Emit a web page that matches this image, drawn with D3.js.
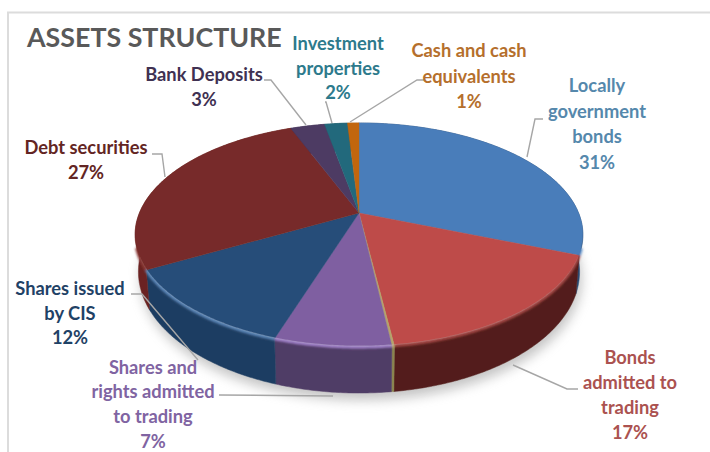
<!DOCTYPE html>
<html><head><meta charset="utf-8">
<script src="https://cdnjs.cloudflare.com/ajax/libs/d3/7.8.5/d3.min.js"></script>
<style>html,body{margin:0;padding:0;background:#fff;overflow:hidden}svg{display:block}</style>
</head><body><svg id="c" width="710" height="452"></svg>
<script>
// ---- data ----
const categories = ["Locally government bonds","Bonds admitted to trading","(unlabelled)","Shares and rights admitted to trading","Shares issued by CIS","Debt securities","Bank Deposits","Investment properties","Cash and cash equivalents"];
const values = [31,17,0.15,7,12,27,3,2,1];
const topColors  = ["#4a7dba","#be4c49","#b5a36a","#7f5fa1","#264d79","#772b29","#4d3a63","#23697b","#c2660f"];
const sideColors = ["#2a4a72","#531d1b","#8b8450","#503c66","#1f3e62","#6a2321","#3a2c4c","#1a505e","#8f4a0a"];
const rimColors  = ["#5f8fc8","#a84a47","#c9b87a","#a585cf","#5f8abc","#8c3a37","#5d4875","#2f7d90","#d57a20"];
const labelColors = ["#5588ac","#ab5250","#8064a2","#1f4266","#632523","#403152","#2d7a8c","#b56f2c"];
const labelLines = [
  ["Locally","government","bonds","31%"],
  ["Bonds","admitted to","trading","17%"],
  ["Shares and","rights admitted","to trading","7%"],
  ["Shares issued","by CIS","12%"],
  ["Debt securities","27%"],
  ["Bank Deposits","3%"],
  ["Investment","properties","2%"],
  ["Cash and cash","equivalents","1%"]
];
const title = "ASSETS STRUCTURE";
// ---- layout ----
const labelX = [597,630,153,70,86,204,338,469];
const labelY = [92,364,373.5,295,154,81,50,57];
const labelStep = [25.5,25,24.7,24.5,25,25,24.5,25.5];
const leaders = [
  [[543,119],[535,119],[527,157]],
  [[578,389],[567,389],[513,365]],
  [[219,395],[333,396]],
  [[131,294],[142,294],[198,360]],
  [[152,154],[162,154],[165,177]],
  [[264,80],[271,80],[306,125]],
  [[325,102],[326,102],[332,123]],
  [[424,80],[417,80],[350,122]]
];
const k = 0.196; // perspective of the pie plane
const sx = d3.scaleLinear().domain([-1,1]).range([359-219.6,359+219.6]);
const syTop = d3.scaleLinear().domain([1,-1]).range([213-107.7,213+107.7]);
const sxBot = d3.scaleLinear().domain([-1,1]).range([359-216.3,359+216.3]);
const syBot = d3.scaleLinear().domain([1,-1]).range([248-116.6,248+116.6]);
const proj = (t,fx,fy)=>{const X=Math.sin(t),Y=Math.cos(t),w=1+k*Y;return [fx(X/w),fy(Y/w)];};
const top_ = t=>proj(t,sx,syTop), bot = t=>proj(t,sxBot,syBot);
const samples=(a,b)=>{const n=Math.max(2,Math.ceil((b-a)/0.01));return d3.range(n+1).map(i=>a+(b-a)*i/n);};
const line = d3.line();
const arcs = d3.pie().sort(null)(values);

const svg = d3.select("#c");
const defs = svg.append("defs");
defs.append("filter").attr("id","sh").attr("x","-20%").attr("y","-20%").attr("width","140%").attr("height","140%")
  .append("feGaussianBlur").attr("stdDeviation",6);
defs.append("filter").attr("id","rim").attr("x","-20%").attr("y","-20%").attr("width","140%").attr("height","140%")
  .append("feGaussianBlur").attr("stdDeviation",1.2);
defs.append("filter").attr("id","soft").attr("x","-5%").attr("y","-5%").attr("width","110%").attr("height","110%")
  .append("feGaussianBlur").attr("stdDeviation",0.5);

// frame
svg.append("path").attr("d",line([[710,12.5],[8,12.5],[8,452]])).attr("fill","none").attr("stroke","#dcdcdc").attr("stroke-width",2);

// shadow
const full = samples(0,2*Math.PI);
svg.append("path").attr("d",line(full.map(bot))+"Z").attr("transform","translate(2,7)")
  .attr("fill","#8a8a8a").attr("opacity",0.5).attr("filter","url(#sh)");

const pie = svg.append("g").attr("filter","url(#soft)");
// side wall
arcs.forEach((d,i)=>{
  const ts = samples(d.startAngle,d.endAngle);
  const pts = ts.map(top_).concat(ts.slice().reverse().map(bot));
  pie.append("path").attr("d",line(pts)+"Z").attr("fill",sideColors[i]).attr("stroke",sideColors[i]).attr("stroke-width",0.5);
});
// highlight along the front rim only
const rimG = pie.append("g").attr("filter","url(#rim)");
arcs.forEach((d,i)=>{
  const ts = samples(d.startAngle,d.endAngle).filter(t=>Math.cos(t)<-0.3);
  if(ts.length>1) rimG.append("path").attr("d",line(ts.map(top_)))
    .attr("fill","none").attr("stroke",rimColors[i]).attr("stroke-width",3);
});
// top surface (its front edge sits a little inside the rim, fading out towards the sides)
const centre = [sx(0),syTop(0)];
const inset = d3.scaleLinear().domain([-1,-0.1]).range([0.99,1]).clamp(true);
arcs.forEach((d,i)=>{
  const pts = [centre].concat(samples(d.startAngle,d.endAngle).map(t=>{
    const p=top_(t),f=inset(Math.cos(t));return [centre[0]+(p[0]-centre[0])*f,centre[1]+(p[1]-centre[1])*f];}));
  pie.append("path").attr("d",line(pts)+"Z").attr("fill",topColors[i]).attr("stroke",topColors[i]).attr("stroke-width",0.4);
});

// leaders
svg.append("g").selectAll("path").data(leaders).join("path").attr("d",d=>line(d))
  .attr("fill","none").attr("stroke","#a6a6a6").attr("stroke-width",1.4);

// labels
const font = "Lato, 'Noto Sans', sans-serif";
svg.append("text").attr("x",27).attr("y",47).text(title)
  .attr("font-family",font).attr("font-weight",700).attr("font-size",26.8).attr("fill","#595959");
labelLines.forEach((ls,i)=>{
  const t = svg.append("text").attr("text-anchor","middle").attr("font-family",font)
    .attr("font-weight",700).attr("font-size",18.3).attr("fill",labelColors[i]);
  ls.forEach((s,j)=>t.append("tspan").attr("x",labelX[i]).attr("y",labelY[i]+j*labelStep[i]).text(s));
});
</script></body></html>
